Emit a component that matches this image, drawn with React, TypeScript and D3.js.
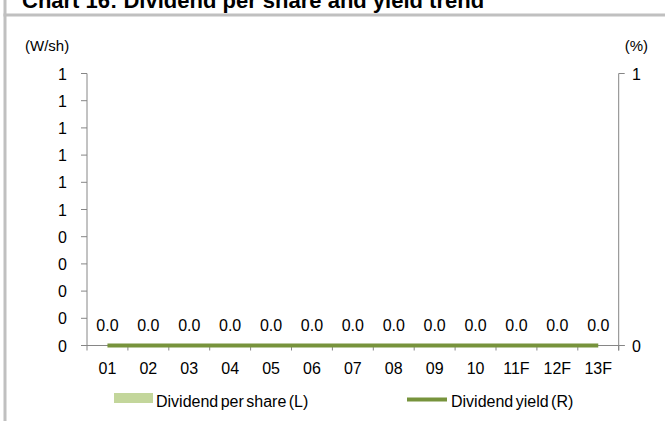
import React from "react";
import * as d3 from "d3";

const categories = ["01", "02", "03", "04", "05", "06", "07", "08", "09", "10", "11F", "12F", "13F"];
const dividendPerShare = [0, 0, 0, 0, 0, 0, 0, 0, 0, 0, 0, 0, 0];
const dividendYield = [0, 0, 0, 0, 0, 0, 0, 0, 0, 0, 0, 0, 0];
const leftTicks = [0, 0.1, 0.2, 0.3, 0.4, 0.5, 0.6, 0.7, 0.8, 0.9, 1.0];
const rightTicks = [0, 1];
const title = "Chart 16: Dividend per share and yield trend";

const W = 665;
const H = 421;
const FONT = "Liberation Sans, Arial, sans-serif";
const AXIS = "#868686";
const FS = 16;

export default function App() {
  const left = 87;
  const right = 618.7;
  const top = 73.5;
  const bottom = 345.5;
  const x = d3.scaleBand<string>().domain(categories).range([left, right]);
  const yL = d3.scaleLinear().domain([0, 1]).range([bottom, top]);
  const yR = d3.scaleLinear().domain([0, 1]).range([bottom, top]);
  const fmt = (v: number) => String(Math.round(v + 1e-9));
  const line = d3
    .line<number>()
    .x((_, i) => (x(categories[i]) as number) + x.bandwidth() / 2)
    .y((d) => yR(d));
  const bw = x.bandwidth() * 0.5;

  return (
    <svg width={W} height={H} style={{ position: "absolute", left: 0, top: 0, background: "#fff" }} fontFamily={FONT}>
      <rect x={0} y={0} width={W} height={H} fill="#fff" />
      {/* title strip */}
      <text x={22} y={8} fontSize={22} fontWeight="bold" fill="#000">{title}</text>
      <rect x={3.5} y={13.5} width={W - 3.5} height={3} fill="#c0c0c0" />
      <rect x={3.5} y={0} width={3} height={H} fill="#c0c0c0" />

      {/* units */}
      <text x={25} y={51} fontSize={15} fill="#000">(W/sh)</text>
      <text x={648} y={51} fontSize={15} fill="#000" textAnchor="end">(%)</text>

      {/* bars */}
      {dividendPerShare.map((v, i) => (
        <rect key={"b" + i}
          x={(x(categories[i]) as number) + (x.bandwidth() - bw) / 2}
          y={yL(v)} width={bw} height={Math.max(0, bottom - yL(v))} fill="#C3D69B" />
      ))}

      {/* left axis */}
      <line x1={left} x2={left} y1={top} y2={bottom + 5} stroke={AXIS} />
      {leftTicks.map((t, i) => (
        <g key={"l" + i}>
          <line x1={left - 6} x2={left} y1={yL(t)} y2={yL(t)} stroke={AXIS} />
          <text x={67} y={yL(t) + 6} fontSize={FS} textAnchor="end" fill="#000">{fmt(t)}</text>
        </g>
      ))}

      {/* right axis */}
      <line x1={right} x2={right} y1={top} y2={bottom + 5} stroke={AXIS} />
      {rightTicks.map((t, i) => (
        <g key={"r" + i}>
          <line x1={right} x2={right + 6} y1={yR(t)} y2={yR(t)} stroke={AXIS} />
          <text x={632} y={yR(t) + 6} fontSize={FS} fill="#000">{fmt(t)}</text>
        </g>
      ))}

      {/* x axis */}
      <line x1={left - 6} x2={right + 6} y1={bottom} y2={bottom} stroke={AXIS} />
      {categories.map((c, i) => (
        <g key={"x" + i}>
          <line x1={(x(c) as number) + x.bandwidth()} x2={(x(c) as number) + x.bandwidth()} y1={bottom} y2={bottom + 5} stroke={AXIS} />
          <text x={(x(c) as number) + x.bandwidth() / 2} y={374} fontSize={FS} textAnchor="middle" fill="#000">{c}</text>
        </g>
      ))}

      {/* data labels */}
      {dividendPerShare.map((v, i) => (
        <text key={"d" + i} x={(x(categories[i]) as number) + x.bandwidth() / 2} y={yL(v) - 15}
          fontSize={FS} textAnchor="middle" fill="#000">{v.toFixed(1)}</text>
      ))}

      {/* yield line */}
      <path d={line(dividendYield) || ""} fill="none" stroke="#77933C" strokeWidth={4} />

      {/* legend */}
      <rect x={114} y={393} width={39} height={10} fill="#C3D69B" />
      <text x={156} y={406.5} fontSize={FS} fill="#000" wordSpacing={-2}>Dividend per share (L)</text>
      <line x1={407} x2={447} y1={399.5} y2={399.5} stroke="#77933C" strokeWidth={4} />
      <text x={451} y={406.5} fontSize={FS} fill="#000" wordSpacing={-2}>Dividend yield (R)</text>
    </svg>
  );
}
